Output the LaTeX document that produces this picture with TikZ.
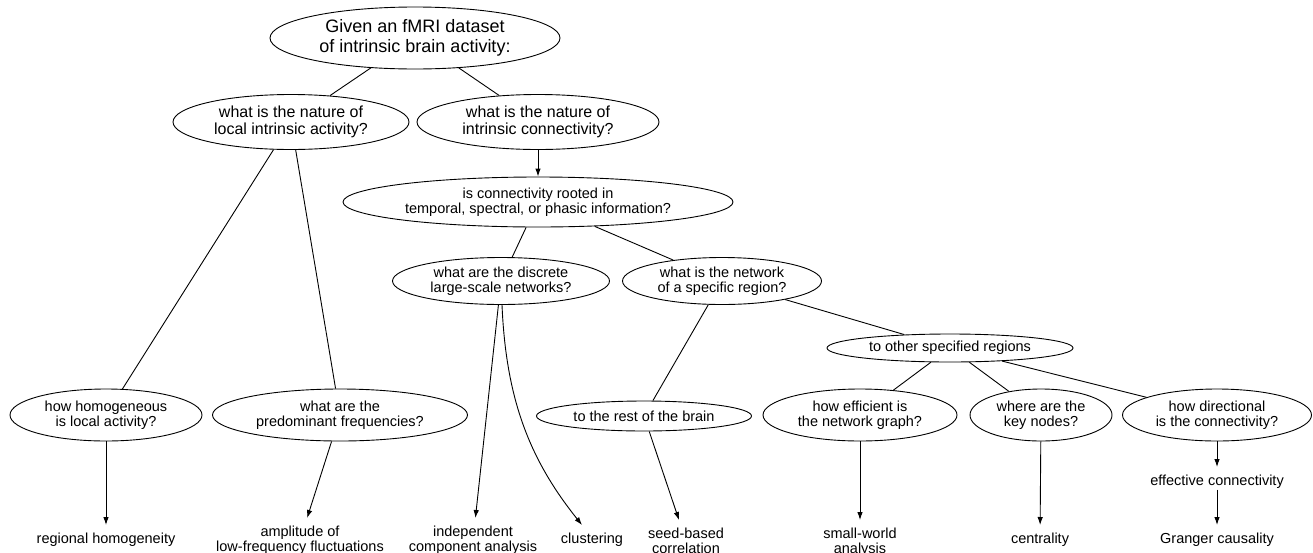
\documentclass[tikz,border=0pt]{standalone}
\usepackage{fontspec}
\setmainfont{Liberation Sans}
\usetikzlibrary{shapes.geometric,arrows.meta}

\begin{document}
\begin{tikzpicture}[
    x=1pt, y=-1pt,
    quest/.style={ellipse, draw, line width=0.9pt, inner sep=0pt, align=center,
                  font=\fontsize{14.5}{15}\selectfont},
    topq/.style={quest, font=\fontsize{16}{17}\selectfont},
    res/.style={align=center, inner sep=0pt, outer xsep=0pt, outer ysep=8pt,
                anchor=north, font=\fontsize{14.5}{15}\selectfont},
    link/.style={line width=0.9pt},
    arrow/.style={-{Latex[length=8pt,width=5.5pt]}, line width=0.9pt}
]
\useasboundingbox (0,0) rectangle (1313,552);

% Question nodes (top to bottom)
\node[quest, font=\fontsize{18}{20}\selectfont, minimum width=290pt, minimum height=62pt] (root) at (415,38)
    {Given an fMRI dataset\\of intrinsic brain activity:};

\node[topq, minimum width=236pt, minimum height=55pt] (local) at (291,122)
    {what is the nature of\\local intrinsic activity?};
\node[topq, minimum width=242pt, minimum height=55pt] (conn) at (538,122)
    {what is the nature of\\intrinsic connectivity?};

\node[quest, minimum width=390pt, minimum height=50pt] (rooted) at (538,202)
    {is connectivity rooted in\\temporal, spectral, or phasic information?};

\node[quest, minimum width=217pt, minimum height=47pt] (discrete) at (501,281)
    {what are the discrete\\large-scale networks?};
\node[quest, minimum width=199pt, minimum height=47pt] (network) at (722,281)
    {what is the network\\of a specific region?};

\node[quest, minimum width=246pt, minimum height=28pt] (other) at (950,348)
    {to other specified regions};

\node[quest, minimum width=192pt, minimum height=52pt] (homog) at (106,415)
    {how homogeneous\\is local activity?};
\node[quest, minimum width=255pt, minimum height=52pt] (predom) at (340,415)
    {what are the\\predominant frequencies?};
\node[quest, minimum width=215pt, minimum height=30pt] (rest) at (644,416)
    {to the rest of the brain};
\node[quest, minimum width=194pt, minimum height=52pt] (effic) at (860,415)
    {how efficient is\\the network graph?};
\node[quest, minimum width=142pt, minimum height=52pt] (keynodes) at (1041,415)
    {where are the\\key nodes?};
\node[quest, minimum width=189pt, minimum height=52pt] (direct) at (1217,415)
    {how directional\\is the connectivity?};

% Methods (leaves)
\node[res] (reho) at (106,525) {regional homogeneity};
\node[res] (alff) at (300,518) {amplitude of\\low-frequency fluctuations};
\node[res] (ica) at (473,518) {independent\\component analysis};
\node[res] (clust) at (592,525) {clustering};
\node[res] (seed) at (686,520) {seed-based\\correlation};
\node[res] (smallw) at (860,520) {small-world\\analysis};
\node[res] (central) at (1040,525) {centrality};
\node[res] (effect) at (1217,467) {effective connectivity};
\node[res] (granger) at (1217,525) {Granger causality};

% Tree edges
\draw[link] (root) -- (local);
\draw[link] (root) -- (conn);
\draw[arrow] (conn) -- (rooted);
\draw[link] (rooted) -- (discrete);
\draw[link] (rooted) -- (network);
\draw[link] (local) -- (homog);
\draw[link] (local) -- (predom);
\draw[link] (network) -- (rest);
\draw[link] (network) -- (other);
\draw[link] (other) -- (effic);
\draw[link] (other) -- (keynodes);
\draw[link] (other) -- (direct);

% Arrows to methods
\draw[arrow] (homog) -- (reho);
\draw[arrow] (predom) -- (alff);
\draw[arrow] (discrete) -- (ica);
\draw[arrow] (discrete) .. controls (506,400) and (530,460) .. ([xshift=-10pt]clust.north);
\draw[arrow] (rest) -- (seed);
\draw[arrow] (effic) -- (smallw);
\draw[arrow] (keynodes) -- (central);
\draw[arrow] (direct) -- (effect);
\draw[arrow, shorten <=-7pt] (effect) -- (granger);

\end{tikzpicture}
\end{document}
